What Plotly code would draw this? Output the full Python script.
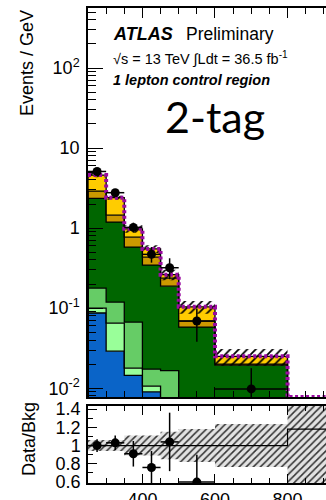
import numpy as np
import plotly.graph_objects as go

# ---------------- data ----------------
bin_edges = [250, 300, 350, 400, 450, 500, 600, 800, 1000]

# stacked backgrounds, Events / GeV, bottom -> top
bkg_blue       = [0.087, 0.029, 0.0145, 0.0090, 0.0,    0.0,    0.0,    0.0]
bkg_lightgreen = [0.013, 0.036, 0.0033, 0.0016, 0.0,    0.0,    0.0,    0.0]
bkg_midgreen   = [0.078, 0.054, 0.0492, 0.0067, 0.0166, 0.0,    0.0,    0.0]
bkg_darkgreen  = [2.172, 1.071, 0.513,  0.3277, 0.1714, 0.058,  0.0194, 0.0]
bkg_gold       = [0.55,  0.26,  0.19,   0.089,  0.049,  0.0108, 0.0006, 0.0]
bkg_yellow     = [1.70,  0.95,  0.21,   0.116,  0.025,  0.0352, 0.0050, 0.0]
bkg_rel_unc    = [0.06,  0.06,  0.11,   0.11,   0.15,   0.18,   0.235,  1.0]

data_vals   = [5.1,  2.77, 1.02, 0.47, 0.32, 0.069, 0.0098]
data_err_up = [0.35, 0.25, 0.15, 0.11, 0.10, 0.030, 0.008]
data_err_dn = [0.35, 0.25, 0.14, 0.10, 0.09, 0.031, 0.0065]

ratio_vals   = [1.00, 1.03, 0.91, 0.76, 1.04, 0.60]
ratio_err_up = [0.07, 0.08, 0.14, 0.18, 0.32, 0.30]
ratio_err_dn = [0.07, 0.08, 0.14, 0.18, 0.32, 0.30]
ratio_ref    = [1, 1, 1, 1, 1, 1, 1, 1.18]

main_yticks = [0.01, 0.1, 1, 10, 100]
main_yticktext = ["10<sup>-2</sup>", "10<sup>-1</sup>", "1", "10", "10<sup>2</sup>"]
ratio_yticks = [0.6, 0.8, 1.0, 1.2, 1.4]
x_ticks = [400, 600, 800]

# ---------------- style / layout ----------------
W, H = 326, 500
L, R, T, B = 88, 0, 8, 17
PH = H - T - B
PW = W - L - R
FONT = "Liberation Sans, Arial, sans-serif"
XR = [250, 906]
YLOG = [-2.11, 2.75]
YR2 = [0.59, 1.433]
FLOOR = 1e-5

def ypap(px):
    return (H - B - px) / PH

def xpap(px):
    return (px - L) / PW

edges = np.array(bin_edges, dtype=float)
centers = 0.5 * (edges[:-1] + edges[1:])
halfw = 0.5 * (edges[1:] - edges[:-1])

def step(vals, floor=FLOOR):
    v = [x if x > 0 else floor for x in vals]
    xs = [edges[0]] + list(edges[:-1]) + [edges[-1], edges[-1]]
    ys = [floor] + v + [v[-1], floor]
    return xs, ys

fig = go.Figure()

# stacked backgrounds
comps = [
    (bkg_blue, "#0a64c8"),
    (bkg_lightgreen, "#99ff99"),
    (bkg_midgreen, "#66cc66"),
    (bkg_darkgreen, "#006600"),
    (bkg_gold, "#cc9900"),
    (bkg_yellow, "#ffcc00"),
]
cum = np.cumsum(np.array([c[0] for c in comps]), axis=0)
bx, by = step([0] * len(centers))
fig.add_trace(go.Scatter(x=bx, y=by, mode="lines", line=dict(width=0, shape="hv"),
                         hoverinfo="skip", showlegend=False, xaxis="x", yaxis="y"))
for (vals, col), top in zip(comps, cum):
    sx, sy = step(list(top))
    fig.add_trace(go.Scatter(x=sx, y=sy, mode="lines", fill="tonexty", fillcolor=col,
                             line=dict(color="black", width=1.3, shape="hv"),
                             hoverinfo="skip", showlegend=False, xaxis="x", yaxis="y"))

total = cum[-1]
unc = np.array(bkg_rel_unc)
lo = [t * (1 - u) if t > 0 else 0 for t, u in zip(total, unc)]
hi = [t * (1 + u) if t > 0 else 0 for t, u in zip(total, unc)]
lx, ly = step(lo)
hx, hy = step(hi)
fig.add_trace(go.Scatter(x=lx, y=ly, mode="lines", line=dict(width=0, shape="hv"),
                         hoverinfo="skip", showlegend=False, xaxis="x", yaxis="y"))
fig.add_trace(go.Scatter(x=hx, y=hy, mode="lines", line=dict(width=0, shape="hv"),
                         fill="tonexty", fillcolor="rgba(0,0,0,0)",
                         fillpattern=dict(shape="/", fgcolor="black", bgcolor="rgba(0,0,0,0)",
                                          size=6, solidity=0.3, fillmode="replace"),
                         hoverinfo="skip", showlegend=False, xaxis="x", yaxis="y"))

# total (purple dotted)
disp_floor = 10 ** YLOG[0]
tot_disp = [t if t > 0 else disp_floor for t in total]
fig.add_trace(go.Scatter(x=list(edges[:-1]) + [edges[-1]], y=tot_disp + [tot_disp[-1]],
                         mode="lines", line=dict(color="#9a0aa0", width=4, shape="hv", dash="3px,2.5px"),
                         hoverinfo="skip", showlegend=False, xaxis="x", yaxis="y"))

# data
nd = len(data_vals)
fig.add_trace(go.Scatter(x=centers[:nd], y=data_vals, mode="markers",
                         marker=dict(color="black", size=9),
                         error_y=dict(type="data", symmetric=False, array=data_err_up,
                                      arrayminus=data_err_dn, color="black", thickness=1.5, width=0),
                         error_x=dict(type="data", array=list(halfw[:nd]), color="black",
                                      thickness=1.5, width=0),
                         hoverinfo="skip", showlegend=False, xaxis="x", yaxis="y"))

# ratio panel
rl = [1 - u for u in unc]
rh = [1 + u for u in unc]
rlx, rly = step(rl, floor=0.0)
rhx, rhy = step(rh, floor=0.0)
fig.add_trace(go.Scatter(x=rlx, y=rly, mode="lines", line=dict(width=0, shape="hv"),
                         hoverinfo="skip", showlegend=False, xaxis="x2", yaxis="y2"))
fig.add_trace(go.Scatter(x=rhx, y=rhy, mode="lines", line=dict(width=0, shape="hv"),
                         fill="tonexty", fillcolor="rgba(0,0,0,0)",
                         fillpattern=dict(shape="/", fgcolor="#333333", bgcolor="#e2e2e2",
                                          size=5, solidity=0.3, fillmode="replace"),
                         hoverinfo="skip", showlegend=False, xaxis="x2", yaxis="y2"))
fig.add_trace(go.Scatter(x=list(edges[:-1]) + [edges[-1]], y=ratio_ref + [ratio_ref[-1]],
                         mode="lines", line=dict(color="black", width=1.2, shape="hv"),
                         hoverinfo="skip", showlegend=False, xaxis="x2", yaxis="y2"))
nr = len(ratio_vals)
fig.add_trace(go.Scatter(x=centers[:nr], y=ratio_vals, mode="markers",
                         marker=dict(color="black", size=9),
                         error_y=dict(type="data", symmetric=False, array=ratio_err_up,
                                      arrayminus=ratio_err_dn, color="black", thickness=1.5, width=0),
                         error_x=dict(type="data", array=list(halfw[:nr]), color="black",
                                      thickness=1.5, width=0),
                         hoverinfo="skip", showlegend=False, xaxis="x2", yaxis="y2"))

minor_log = [k * 10.0 ** d for d in range(-3, 3) for k in range(2, 10)]
axcommon = dict(showline=True, linecolor="black", linewidth=1.5, ticks="inside",
                tickcolor="black", tickwidth=1.3, showgrid=False, zeroline=False,
                automargin=False, tickfont=dict(family=FONT, size=18, color="black"))

fig.update_layout(
    template="none",
    width=W, height=H,
    margin=dict(l=L, r=R, t=T, b=B, pad=0),
    paper_bgcolor="white", plot_bgcolor="white",
    showlegend=False,
    font=dict(family=FONT, size=18, color="black"),
    xaxis=dict(axcommon, domain=[0, 1], anchor="y", range=XR, mirror="ticks",
               tickmode="array", tickvals=x_ticks, ticklen=10, showticklabels=False,
               minor=dict(tickmode="array", tickvals=list(range(250, 1001, 50)), ticklen=6,
                          ticks="inside", tickcolor="black", tickwidth=1.3)),
    yaxis=dict(axcommon, type="log", domain=[ypap(397), 1], anchor="x", range=YLOG,
               tickmode="array", tickvals=main_yticks, ticktext=main_yticktext, ticklen=15,
               ticklabelstandoff=3,
               minor=dict(tickmode="array", tickvals=minor_log, ticklen=8, ticks="inside",
                          tickcolor="black", tickwidth=1.3)),
    xaxis2=dict(axcommon, domain=[0, 1], anchor="y2", range=XR, mirror="ticks",
                tickmode="array", tickvals=x_ticks, ticklen=9,
                minor=dict(tickmode="array", tickvals=list(range(250, 1001, 50)), ticklen=5,
                           ticks="inside", tickcolor="black", tickwidth=1.3)),
    yaxis2=dict(axcommon, domain=[0, ypap(406)], anchor="x2", range=YR2,
                tickmode="array", tickvals=ratio_yticks, ticklen=9, ticklabelstandoff=2,
                minor=dict(tickmode="array", tickvals=[0.7, 0.9, 1.1, 1.3], ticklen=5,
                           ticks="inside", tickcolor="black", tickwidth=1.3)),
)

ann = [
    dict(text="<b><i>ATLAS</i></b>", x=xpap(111), y=ypap(34), xanchor="left", yanchor="middle",
         font=dict(family=FONT, size=18, color="black")),
    dict(text="Preliminary", x=xpap(184), y=ypap(34), xanchor="left", yanchor="middle",
         font=dict(family=FONT, size=17.5, color="black")),
    dict(text="√s = 13 TeV ∫Ldt = 36.5 fb<sup>-1</sup>", x=xpap(111), y=ypap(58),
         xanchor="left", yanchor="middle", font=dict(family=FONT, size=14.5, color="black")),
    dict(text="<b><i>1 lepton control region</i></b>", x=xpap(111), y=ypap(80),
         xanchor="left", yanchor="middle", font=dict(family=FONT, size=14.5, color="black")),
    dict(text="2-tag", x=xpap(215), y=ypap(117), xanchor="center", yanchor="middle",
         font=dict(family="Lato, sans-serif", size=43, color="black")),
    dict(text="Events / GeV", textangle=-90, x=xpap(27), y=ypap(8), xanchor="center",
         yanchor="top", font=dict(family=FONT, size=18, color="black")),
    dict(text="Data/Bkg", textangle=-90, x=xpap(29), y=ypap(400), xanchor="center",
         yanchor="top", font=dict(family=FONT, size=18, color="black")),
]
for a in ann:
    a.update(xref="paper", yref="paper", showarrow=False)
fig.update_layout(annotations=ann)

fig.write_html("out.html", config={"displayModeBar": False},
               post_script="document.body.style.margin='0px';")
